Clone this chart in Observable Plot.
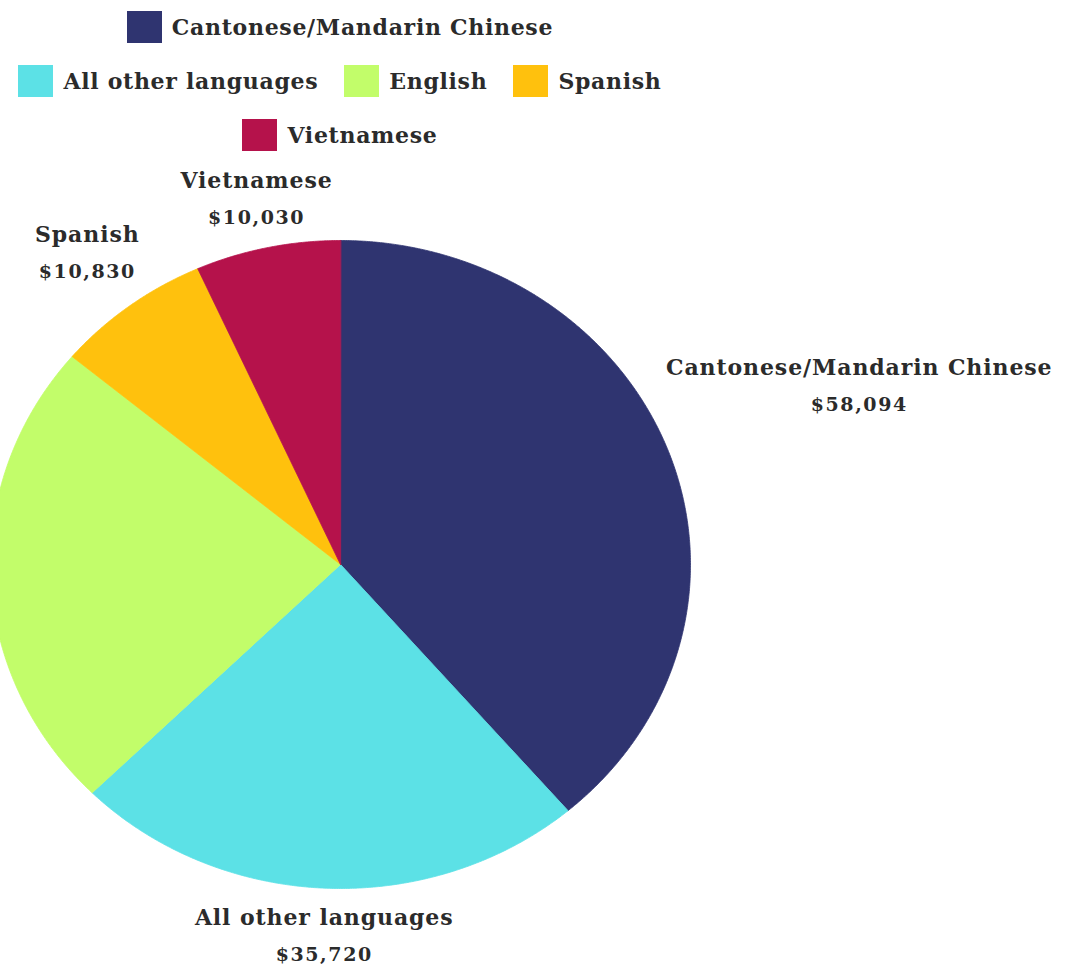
<!DOCTYPE html>
<html><head><meta charset="utf-8">
<script src="https://cdn.jsdelivr.net/npm/d3@7"></script>
<script src="https://cdn.jsdelivr.net/npm/@observablehq/plot@0.6"></script>
<style>
body{margin:0;background:#fff;font-family:"DejaVu Serif",serif;color:#2b2b2b;}
#legend{width:710px;margin-left:-15px;height:160px;display:flex;flex-wrap:wrap;justify-content:center;align-content:flex-start;}
.item{display:flex;align-items:center;height:54px;margin:0 13px;}
.sw{width:35px;height:32px;margin-right:10px;}
.lt{font-size:22px;font-weight:bold;white-space:nowrap;letter-spacing:0.7px;}
#chart svg{display:block;}
</style></head><body>
<div id="legend"></div><div id="chart"></div>
<script>
const languages = ["Cantonese/Mandarin Chinese", "All other languages", "English", "Spanish", "Vietnamese"];
const amounts = [58094, 35720, 35300, 10830, 10030];
const valueLabels = ["$58,094", "$35,720", "", "$10,830", "$10,030"];
const colors = ["#2f3470", "#5ce1e6", "#c2fd6a", "#ffc10d", "#b5124b"];
const labelShown = [true, true, false, true, true];

// legend
const legend = d3.select("#legend");
languages.forEach((l, i) => {
  const it = legend.append("div").attr("class", "item");
  it.append("div").attr("class", "sw").style("background", colors[i]);
  it.append("div").attr("class", "lt").text(l);
});

const table = languages.map((l, i) => ({lang: l, value: amounts[i], label: valueLabels[i], shown: labelShown[i]}));
const arcs = d3.pie().sort(null).value(d => d.value)(table);

// slice outlines (polar geometry of each slice)
const pts = [];
for (const a of arcs) {
  pts.push({lang: a.data.lang, x: 0, y: 0});
  const n = Math.max(2, Math.ceil((a.endAngle - a.startAngle) / 0.005));
  for (let k = 0; k <= n; k++) {
    const t = a.startAngle + (a.endAngle - a.startAngle) * k / n;
    pts.push({lang: a.data.lang, x: Math.sin(t), y: -Math.cos(t)});
  }
}

const labelRadius = {"Cantonese/Mandarin Chinese": 1.58, "Spanish": 1.2};
const labels = arcs.filter(a => a.data.shown).map(a => {
  const m = (a.startAngle + a.endAngle) / 2;
  const r = labelRadius[a.data.lang] ?? 1.15;
  return {lang: a.data.lang, label: a.data.label, x: r * Math.sin(m), y: -r * Math.cos(m)};
});

const chart = Plot.plot({
  width: 1076,
  height: 807,
  margin: 0,
  x: {domain: [-1, 1], range: [-10, 690], axis: null},
  y: {domain: [-1, 1], range: [80, 728], axis: null},
  color: {domain: languages, range: colors},
  style: {fontFamily: "DejaVu Serif", background: "#fff"},
  marks: [
    Plot.line(pts, {x: "x", y: "y", z: "lang", fill: "lang", stroke: "lang", strokeWidth: 0.8, curve: "linear-closed"}),
    Plot.text(labels, {x: "x", y: "y", text: "lang", dy: -19, fontSize: 22, fontWeight: "bold", fill: "#2b2b2b"}),
    Plot.text(labels, {x: "x", y: "y", text: "label", dy: 18, fontSize: 19, fontWeight: "bold", fill: "#2b2b2b"})
  ]
});
const textGroups = chart.querySelectorAll('g[aria-label="text"]');
if (textGroups[0]) textGroups[0].style.letterSpacing = "0.9px";
if (textGroups[1]) textGroups[1].style.letterSpacing = "1.6px";
document.getElementById("chart").appendChild(chart);
</script>
</body></html>
